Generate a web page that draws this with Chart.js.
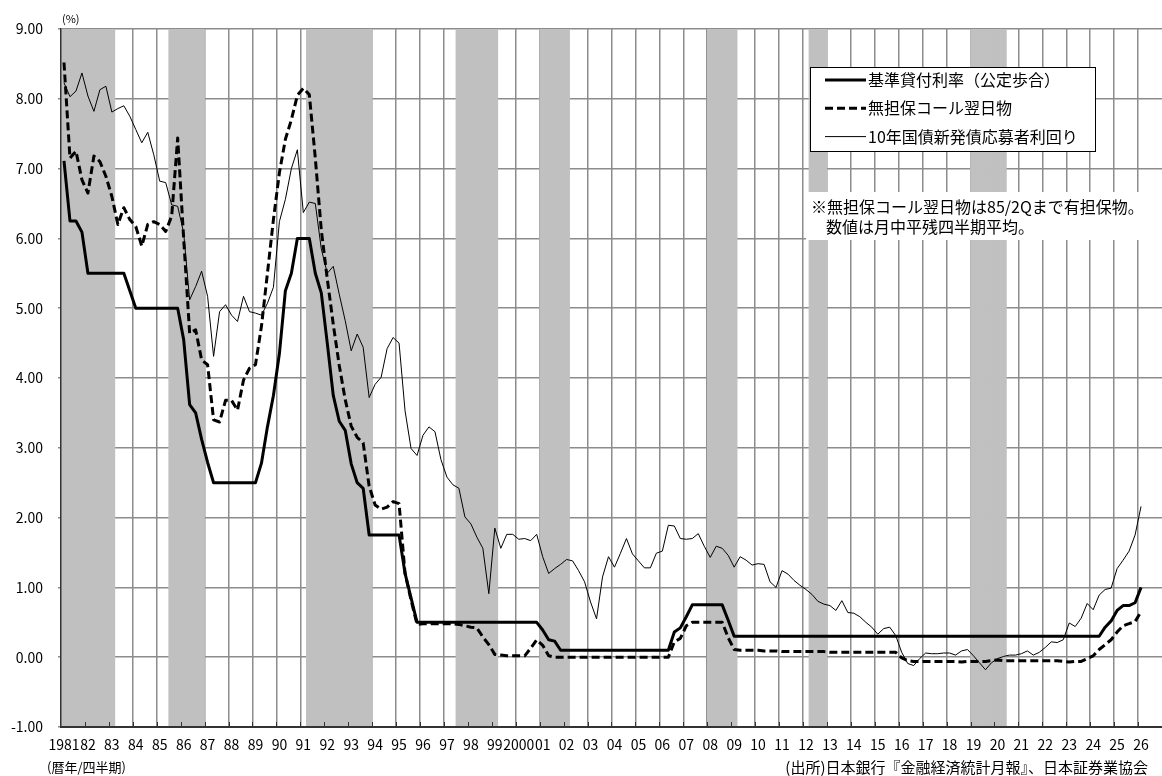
<!DOCTYPE html>
<html lang="ja">
<head>
<meta charset="utf-8">
<title>金利の推移</title>
<script src="https://cdn.jsdelivr.net/npm/chart.js@4.4.1/dist/chart.umd.min.js"></script>
<style>
html, body { margin: 0; padding: 0; overflow: hidden; background: #fff; }
#wrap { width: 1168px; height: 776px; }
</style>
</head>
<body>
<div id="wrap"><canvas id="chart" width="1168" height="776"></canvas></div>
<script>

// year labels shown under the x axis (one per year, quarterly data)
var yearTicks = ['1981', '82', '83', '84', '85', '86', '87', '88', '89', '90',
    '91', '92', '93', '94', '95', '96', '97', '98', '99', '2000',
    '01', '02', '03', '04', '05', '06', '07', '08', '09', '10',
    '11', '12', '13', '14', '15', '16', '17', '18', '19', '20',
    '21', '22', '23', '24', '25', '26'];

var seriesNames = ['基準貸付利率（公定歩合）', '無担保コール翌日物', '10年国債新発債応募者利回り'];

// 基準貸付利率 (%), 1981/1Q ~ 2026/1Q
var policyRate = [
    7.11, 6.25, 6.25, 6.09,   // 1981
    5.50, 5.50, 5.50, 5.50,   // 1982
    5.50, 5.50, 5.50, 5.25,   // 1983
    5.00, 5.00, 5.00, 5.00,   // 1984
    5.00, 5.00, 5.00, 5.00,   // 1985
    4.55, 3.62, 3.50, 3.12,   // 1986
    2.79, 2.50, 2.50, 2.50,   // 1987
    2.50, 2.50, 2.50, 2.50,   // 1988
    2.50, 2.78, 3.30, 3.75,   // 1989
    4.35, 5.25, 5.50, 6.00,   // 1990
    6.00, 6.00, 5.50, 5.22,   // 1991
    4.50, 3.75, 3.38, 3.25,   // 1992
    2.77, 2.50, 2.42, 1.75,   // 1993
    1.75, 1.75, 1.75, 1.75,   // 1994
    1.75, 1.20, 0.85, 0.50,   // 1995
    0.50, 0.50, 0.50, 0.50,   // 1996
    0.50, 0.50, 0.50, 0.50,   // 1997
    0.50, 0.50, 0.50, 0.50,   // 1998
    0.50, 0.50, 0.50, 0.50,   // 1999
    0.50, 0.50, 0.50, 0.50,   // 2000
    0.39, 0.25, 0.23, 0.10,   // 2001
    0.10, 0.10, 0.10, 0.10,   // 2002
    0.10, 0.10, 0.10, 0.10,   // 2003
    0.10, 0.10, 0.10, 0.10,   // 2004
    0.10, 0.10, 0.10, 0.10,   // 2005
    0.10, 0.10, 0.36, 0.42,   // 2006
    0.58, 0.75, 0.75, 0.75,   // 2007
    0.75, 0.75, 0.75, 0.53,   // 2008
    0.30, 0.30, 0.30, 0.30,   // 2009
    0.30, 0.30, 0.30, 0.30,   // 2010
    0.30, 0.30, 0.30, 0.30,   // 2011
    0.30, 0.30, 0.30, 0.30,   // 2012
    0.30, 0.30, 0.30, 0.30,   // 2013
    0.30, 0.30, 0.30, 0.30,   // 2014
    0.30, 0.30, 0.30, 0.30,   // 2015
    0.30, 0.30, 0.30, 0.30,   // 2016
    0.30, 0.30, 0.30, 0.30,   // 2017
    0.30, 0.30, 0.30, 0.30,   // 2018
    0.30, 0.30, 0.30, 0.30,   // 2019
    0.30, 0.30, 0.30, 0.30,   // 2020
    0.30, 0.30, 0.30, 0.30,   // 2021
    0.30, 0.30, 0.30, 0.30,   // 2022
    0.30, 0.30, 0.30, 0.30,   // 2023
    0.30, 0.30, 0.43, 0.52,   // 2024
    0.67, 0.74, 0.74, 0.78,   // 2025
    1.00                      // 2026
];

// 無担保コール翌日物 (%)
var callRate = [
    8.52, 7.15, 7.25, 6.84,   // 1981
    6.65, 7.18, 7.10, 6.89,   // 1982
    6.60, 6.20, 6.44, 6.27,   // 1983
    6.17, 5.89, 6.20, 6.24,   // 1984
    6.20, 6.10, 6.32, 7.44,   // 1985
    6.00, 4.64, 4.69, 4.26,   // 1986
    4.19, 3.40, 3.37, 3.68,   // 1987
    3.68, 3.54, 3.97, 4.14,   // 1988
    4.19, 4.74, 5.50, 6.27,   // 1989
    6.94, 7.42, 7.70, 8.05,   // 1990
    8.15, 8.06, 7.15, 6.12,   // 1991
    5.42, 4.77, 4.18, 3.69,   // 1992
    3.31, 3.15, 3.07, 2.45,   // 1993
    2.18, 2.12, 2.15, 2.23,   // 1994
    2.20, 1.20, 0.82, 0.47,   // 1995
    0.48, 0.48, 0.48, 0.48,   // 1996
    0.48, 0.48, 0.47, 0.45,   // 1997
    0.43, 0.42, 0.29, 0.18,   // 1998
    0.04, 0.03, 0.02, 0.02,   // 1999
    0.02, 0.02, 0.13, 0.25,   // 2000
    0.17, 0.02, 0.00, 0.00,   // 2001
    0.00, 0.00, 0.00, 0.00,   // 2002
    0.00, 0.00, 0.00, 0.00,   // 2003
    0.00, 0.00, 0.00, 0.00,   // 2004
    0.00, 0.00, 0.00, 0.00,   // 2005
    0.00, 0.00, 0.22, 0.27,   // 2006
    0.45, 0.50, 0.50, 0.50,   // 2007
    0.50, 0.50, 0.50, 0.28,   // 2008
    0.11, 0.10, 0.10, 0.10,   // 2009
    0.10, 0.09, 0.09, 0.09,   // 2010
    0.08, 0.08, 0.08, 0.08,   // 2011
    0.08, 0.08, 0.08, 0.08,   // 2012
    0.07, 0.07, 0.07, 0.07,   // 2013
    0.07, 0.07, 0.07, 0.07,   // 2014
    0.07, 0.07, 0.07, 0.07,   // 2015
    -0.01, -0.05, -0.06, -0.06, // 2016
    -0.06, -0.06, -0.06, -0.06, // 2017
    -0.06, -0.06, -0.07, -0.06, // 2018
    -0.06, -0.06, -0.06, -0.05, // 2019
    -0.04, -0.05, -0.05, -0.05, // 2020
    -0.05, -0.05, -0.05, -0.05, // 2021
    -0.05, -0.05, -0.05, -0.06, // 2022
    -0.07, -0.06, -0.06, -0.02, // 2023
    0.02, 0.11, 0.18, 0.25,   // 2024
    0.36, 0.45, 0.48, 0.51,   // 2025
    0.65                      // 2026
];

// 10年国債新発債応募者利回り (%)
var jgb10y = [
    8.23, 8.03, 8.11, 8.37,   // 1981
    8.04, 7.82, 8.13, 8.18,   // 1982
    7.81, 7.86, 7.90, 7.75,   // 1983
    7.56, 7.37, 7.52, 7.20,   // 1984
    6.82, 6.80, 6.48, 6.46,   // 1985
    6.08, 5.12, 5.31, 5.53,   // 1986
    5.17, 4.31, 4.95, 5.05,   // 1987
    4.90, 4.81, 5.17, 4.95,   // 1988
    4.93, 4.90, 5.07, 5.30,   // 1989
    6.24, 6.56, 7.00, 7.27,   // 1990
    6.37, 6.52, 6.50, 5.85,   // 1991
    5.50, 5.60, 5.20, 4.82,   // 1992
    4.39, 4.63, 4.44, 3.72,   // 1993
    3.91, 4.01, 4.42, 4.58,   // 1994
    4.50, 3.53, 2.99, 2.89,   // 1995
    3.18, 3.30, 3.23, 2.83,   // 1996
    2.58, 2.47, 2.42, 2.01,   // 1997
    1.91, 1.72, 1.56, 0.91,   // 1998
    1.85, 1.56, 1.76, 1.76,   // 1999
    1.69, 1.70, 1.67, 1.76,   // 2000
    1.44, 1.20, 1.27, 1.33,   // 2001
    1.40, 1.38, 1.24, 1.08,   // 2002
    0.79, 0.55, 1.15, 1.44,   // 2003
    1.29, 1.49, 1.70, 1.48,   // 2004
    1.38, 1.28, 1.28, 1.49,   // 2005
    1.52, 1.89, 1.88, 1.70,   // 2006
    1.69, 1.70, 1.77, 1.59,   // 2007
    1.43, 1.59, 1.56, 1.46,   // 2008
    1.29, 1.44, 1.39, 1.32,   // 2009
    1.34, 1.33, 1.08, 1.00,   // 2010
    1.24, 1.19, 1.10, 1.03,   // 2011
    0.97, 0.90, 0.80, 0.76,   // 2012
    0.74, 0.67, 0.81, 0.64,   // 2013
    0.63, 0.58, 0.50, 0.43,   // 2014
    0.33, 0.41, 0.43, 0.31,   // 2015
    0.07, -0.09, -0.12, -0.02, // 2016
    0.06, 0.05, 0.05, 0.06,   // 2017
    0.06, 0.03, 0.09, 0.11,   // 2018
    0.02, -0.08, -0.18, -0.08, // 2019
    -0.02, 0.01, 0.03, 0.03,  // 2020
    0.05, 0.09, 0.03, 0.07,   // 2021
    0.14, 0.22, 0.21, 0.25,   // 2022
    0.49, 0.44, 0.56, 0.77,   // 2023
    0.68, 0.89, 0.97, 0.99,   // 2024
    1.27, 1.39, 1.52, 1.75,   // 2025
    2.16                      // 2026
];

// 景気後退期 (shaded), first and last quarter
var recessions = [
    ['1981/1Q', '1983/1Q'],
    ['1985/3Q', '1986/4Q'],
    ['1991/2Q', '1993/4Q'],
    ['1997/3Q', '1999/1Q'],
    ['2001/1Q', '2002/1Q'],
    ['2008/1Q', '2009/1Q'],
    ['2012/2Q', '2012/4Q'],
    ['2019/1Q', '2020/2Q']
];

var yMin = -1;
var yMax = 9;

// quarter categories 1981/1Q ... 2026/4Q
var quarterLabels = [];
for (var y = 1981; y <= 2026; y++) {
    for (var q = 1; q <= 4; q++) {
        quarterLabels.push(y + '/' + q + 'Q');
    }
}

// shaded bands as floating bars over the whole y range
var bandData = quarterLabels.map(function () { return null; });
recessions.forEach(function (r) {
    var a = quarterLabels.indexOf(r[0]);
    var b = quarterLabels.indexOf(r[1]);
    for (var i = a; i <= b; i++) {
        bandData[i] = [yMin, yMax];
    }
});

var FONT = '"Noto Sans CJK JP", "Noto Sans", sans-serif';
Chart.defaults.font.family = FONT;
Chart.defaults.color = '#000';

// legend box, note box, inside year ticks and free texts
var boxes = {
    id: 'boxes',
    afterDraw: function (chart) {
        var c = chart.ctx;
        var xs = chart.scales.x;
        var area = chart.chartArea;
        c.save();

        // short inside tick marks at each year boundary
        var half = (xs.getPixelForValue(1) - xs.getPixelForValue(0)) / 2;
        c.strokeStyle = '#333';
        c.lineWidth = 1;
        c.beginPath();
        for (var t = 4; t < quarterLabels.length; t += 4) {
            var tx = Math.round(xs.getPixelForValue(t) - half) + 0.5;
            c.moveTo(tx, area.bottom);
            c.lineTo(tx, area.bottom - 5);
        }
        c.stroke();

        // legend
        c.fillStyle = '#fff';
        c.fillRect(810, 67, 285, 84);
        c.strokeStyle = '#000';
        c.lineWidth = 1;
        c.strokeRect(810.5, 67.5, 285, 84);
        c.font = '16px ' + FONT;
        c.textBaseline = 'middle';
        c.textAlign = 'left';
        for (var k = 0; k < 3; k++) {
            var ds = chart.data.datasets[k];
            var ly = 80 + k * 28.3;
            c.beginPath();
            c.setLineDash(ds.borderDash || []);
            c.lineWidth = ds.borderWidth;
            c.strokeStyle = ds.borderColor;
            c.moveTo(825, ly);
            c.lineTo(866, ly);
            c.stroke();
            c.setLineDash([]);
            c.fillStyle = '#000';
            c.fillText(ds.label, 868, ly);
        }

        // note
        c.fillStyle = '#fff';
        c.fillRect(806, 192, 360, 48);
        c.fillStyle = '#000';
        c.font = '16px ' + FONT;
        c.fillText('※無担保コール翌日物は85/2Qまで有担保物。', 811, 207);
        c.fillText('数値は月中平残四半期平均。', 826, 227);

        // unit, axis note, source
        c.font = '11px ' + FONT;
        c.fillText('(%)', 62, 19);
        c.font = '13px ' + FONT;
        c.fillText('(暦年/四半期)', 47, 767);
        c.textAlign = 'right';
        c.font = '15px ' + FONT;
        c.fillText('(出所)日本銀行『金融経済統計月報』、日本証券業協会', 1148, 767);
        c.restore();
    }
};

var ctx = document.getElementById('chart').getContext('2d');
window.myChart = new Chart(ctx, {
    type: 'bar',
    data: {
        labels: quarterLabels,
        datasets: [{
            type: 'line',
            label: seriesNames[0],
            data: policyRate,
            borderColor: '#000',
            borderWidth: 3,
            borderJoinStyle: 'round',
            pointRadius: 0,
            order: 1
        }, {
            type: 'line',
            label: seriesNames[1],
            data: callRate,
            borderColor: '#000',
            borderWidth: 3,
            borderDash: [8, 4],
            borderJoinStyle: 'round',
            pointRadius: 0,
            order: 2
        }, {
            type: 'line',
            label: seriesNames[2],
            data: jgb10y,
            borderColor: '#000',
            borderWidth: 1,
            pointRadius: 0,
            order: 3
        }, {
            type: 'bar',
            label: '景気後退期',
            data: bandData,
            backgroundColor: '#c0c0c0',
            borderWidth: 0,
            barPercentage: 1,
            categoryPercentage: 1,
            order: 10
        }]
    },
    options: {
        responsive: false,
        animation: false,
        devicePixelRatio: 1,
        layout: { padding: { left: 0, right: 1, top: 29, bottom: 19 } },
        plugins: {
            legend: { display: false },
            tooltip: { enabled: false }
        },
        scales: {
            x: {
                offset: true,
                grid: {
                    offset: true,
                    drawTicks: false,
                    lineWidth: 1.5,
                    color: function (c) { return c.index % 4 === 0 ? '#8c8c8c' : 'rgba(0,0,0,0)'; }
                },
                border: { color: '#333', width: 2, z: 1 },
                ticks: {
                    autoSkip: false,
                    maxRotation: 0,
                    minRotation: 0,
                    padding: 9,
                    font: { size: 14 },
                    callback: function (v, i) { return i % 4 === 0 ? yearTicks[i / 4] : ''; }
                },
                afterFit: function (s) { s.height = 30; }
            },
            y: {
                min: yMin,
                max: yMax,
                ticks: {
                    stepSize: 1,
                    padding: 15,
                    font: { size: 14 },
                    callback: function (v) { return v.toFixed(2); }
                },
                grid: { color: '#8c8c8c', lineWidth: 1.5, tickLength: 3 },
                border: { color: '#333', width: 1.5, z: 1 },
                afterFit: function (s) { s.width = 61; }
            }
        }
    },
    plugins: [boxes]
});
</script>
</body>
</html>
